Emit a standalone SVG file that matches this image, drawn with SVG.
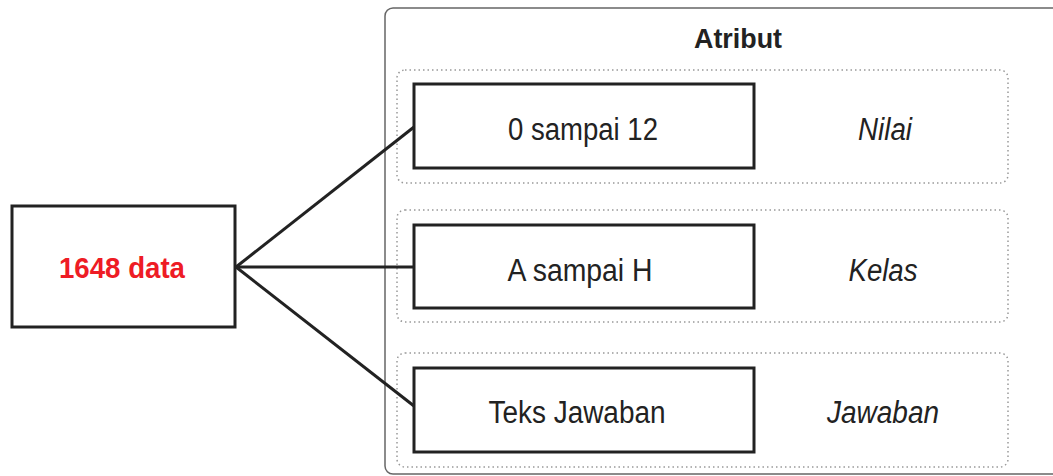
<svg xmlns="http://www.w3.org/2000/svg" width="1053" height="476" viewBox="0 0 1053 476">
<style>
.box{fill:#fff;stroke:#222;stroke-width:3}
.grp{fill:none;stroke:#999;stroke-width:1.5;stroke-dasharray:1.5 3}
.t{font-family:"Liberation Sans",Arial,sans-serif;font-size:31px;fill:#222;text-anchor:middle}
.it{font-style:italic}
.conn{stroke:#222;stroke-width:3;fill:none}
</style>
<rect width="1053" height="476" fill="#fff"/>
<g id="atribut">
<rect x="385" y="8" width="690" height="466" rx="8" fill="#fff" stroke="#666" stroke-width="1.5"/>
<text x="738" y="48" class="t" font-weight="bold" style="font-size:28px" textLength="88" lengthAdjust="spacingAndGlyphs">Atribut</text>
</g>
<g id="grp-nilai">
<rect x="397" y="70" width="611" height="113" rx="8" class="grp"/>
</g>
<g id="grp-kelas">
<rect x="397" y="210" width="611" height="112" rx="8" class="grp"/>
</g>
<g id="grp-jawaban">
<rect x="397" y="353" width="611" height="114" rx="8" class="grp"/>
</g>
<g id="connectors">
<line x1="236" y1="267" x2="414" y2="127" class="conn"/>
<line x1="236" y1="267" x2="414" y2="267" class="conn"/>
<line x1="236" y1="267" x2="414" y2="406" class="conn"/>
</g>
<g id="data">
<rect x="12" y="206" width="223" height="121" class="box"/>
<text x="122" y="278" class="t" font-weight="bold" style="fill:#ee1c25;font-size:30px" textLength="126" lengthAdjust="spacingAndGlyphs">1648 data</text>
</g>
<g id="n-nilai">
<rect x="414" y="84" width="340" height="84" class="box"/>
<text x="583" y="140" class="t" textLength="150" lengthAdjust="spacingAndGlyphs">0 sampai 12</text>
<text x="885" y="140" class="t it" textLength="54" lengthAdjust="spacingAndGlyphs">Nilai</text>
</g>
<g id="n-kelas">
<rect x="414" y="225" width="340" height="83" class="box"/>
<text x="580" y="281" class="t" textLength="145" lengthAdjust="spacingAndGlyphs">A sampai H</text>
<text x="883" y="281" class="t it" textLength="69" lengthAdjust="spacingAndGlyphs">Kelas</text>
</g>
<g id="n-jawaban">
<rect x="414" y="368" width="340" height="84" class="box"/>
<text x="577" y="423" class="t" textLength="177" lengthAdjust="spacingAndGlyphs">Teks Jawaban</text>
<text x="883" y="423" class="t it" textLength="112" lengthAdjust="spacingAndGlyphs">Jawaban</text>
</g>
</svg>
